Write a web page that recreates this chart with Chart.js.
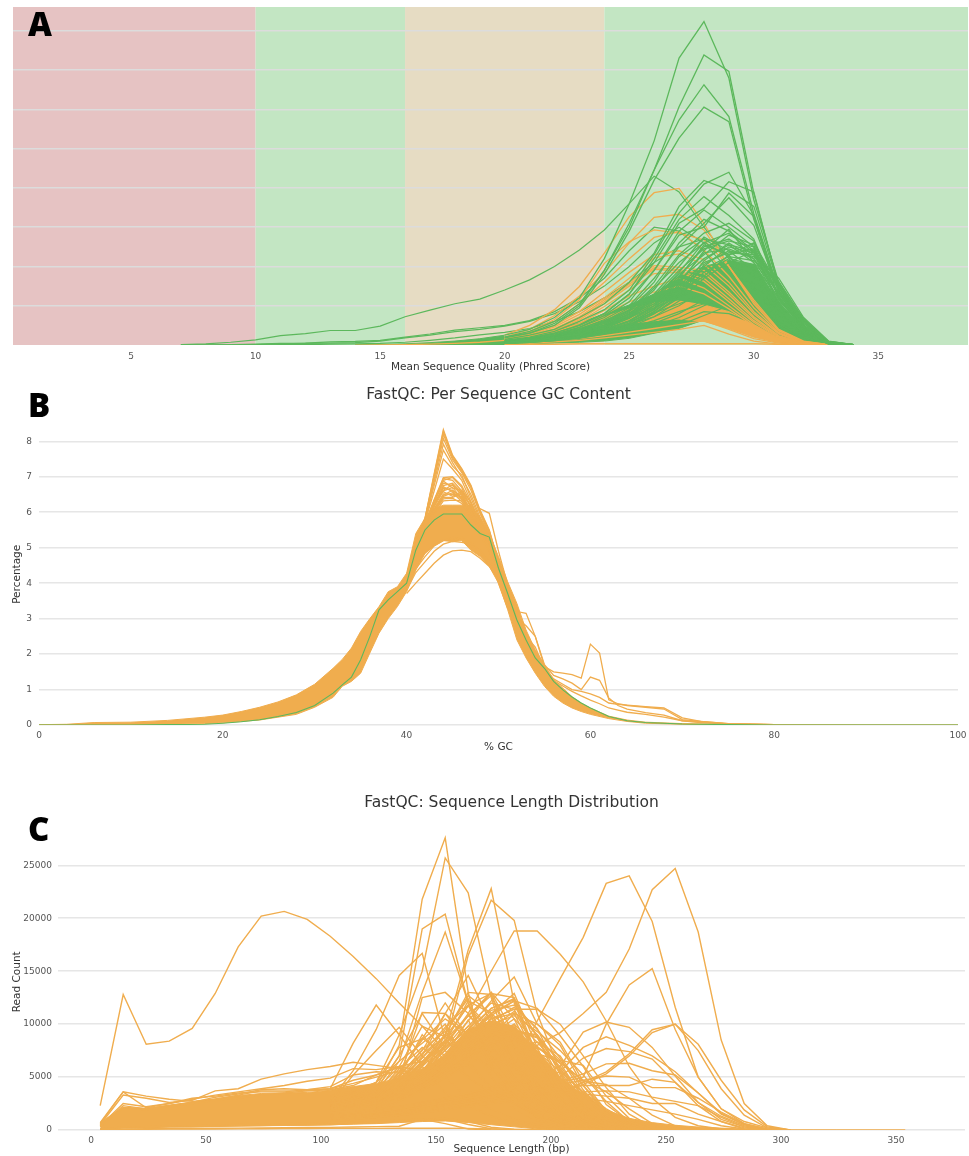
<!DOCTYPE html>
<html><head><meta charset="utf-8">
<script src="https://cdn.jsdelivr.net/npm/chart.js@4"></script>
<style>
html,body{margin:0;padding:0;background:#fff;width:969px;height:1156px;overflow:hidden}
canvas{position:absolute;left:0;filter:blur(.35px)}
.tag{position:absolute;left:28px;font:800 33px "Open Sans","Noto Sans",sans-serif;color:#000;line-height:40px}
</style></head><body>
<canvas id="qual" width="969" height="374" style="top:0"></canvas>
<canvas id="gc" width="969" height="374" style="top:380px"></canvas>
<canvas id="len" width="969" height="366" style="top:790px"></canvas>
<div class="tag" style="top:4px">A</div>
<div class="tag" style="top:385px">B</div>
<div class="tag" style="top:809px">C</div>
<script>
const GREEN='#5cb85c', ORANGE='#f0ad4e';
/* ---------- Panel A ---------- */
const qualityTicks=[5,10,15,20,25,30,35];
const qualityBandEdges=[0.26,10,16,24,38.6];
const qualityBandColors=['#e6c3c3','#c3e6c3','#e6dcc3','#c3e6c3'];
const qualityX=[20,21,22,23,24,25,26,27,28,29,30,31,32,33,34];
const qualityLeadX=[14,15,16,17,18,19,20];
const qualityLeadTop=[0,.01,.03,.06,.1,.16,.25];
const qualityLeadBottom=[0,0,0,0,0,0,0];
const qualityLeadOrange=[0,0,.01,.02,.04,.07,.12];
const qualityTailX=[7,8,9,10,11,12,13,14,15,16,17,18,19,20,21,22,23,24,25,26,27,28,29,30,31,32,33,34];
const qualityTailLines=[
[.01,.03,.07,.13,.24,.29,.37,.37,.48,.72,.89,1.05,1.17,1.4,1.66,2.0,2.42,2.93,3.6,4.3,3.9,3.0,2.2,1.2,.5,.15,.02,0],
[0,0,.01,.02,.04,.05,.08,.09,.12,.2,.28,.38,.44,.5,.62,.85,1.2,1.7,2.4,3.0,2.9,2.4,1.6,.9,.4,.1,.01,0],
[0,0,0,.01,.03,.04,.05,.06,.1,.18,.25,.34,.4,.48,.6,.8,1.1,1.5,2.0,2.6,3.0,2.6,1.9,1.2,.5,.12,.01,0],
[0,0,0,0,.01,.01,.02,.03,.04,.07,.12,.18,.26,.32,.42,.6,.85,1.2,1.6,2.1,2.5,2.7,2.3,1.4,.6,.15,.02,0]
];
const qualityMassTop=[.15,.25,.4,.56,.8,1.02,1.3,1.75,2.0,2.15,2.05,1.1,.4,.04,.01];
const qualityMassBottom=[.02,.03,.05,.07,.1,.17,.3,.42,.64,.55,.3,.1,.02,0,0];
const qualityOrangeTop=[.18,.25,.35,.5,.72,.92,1.08,1.12,1.02,.85,.52,.2,.04,0,0];
const qualityOrangeBottom=[.08,.12,.18,.25,.4,.55,.62,.66,.6,.42,.2,.06,.01,0,0];
const qualityFlat=[.02,.02,.02,.03,.03,.03,.03,.03,.03,.03,.03,.02,.01,0,0];
const qualityGreenLow=[
[.03,.05,.08,.13,.2,.3,.45,.6,.85,.8,.55,.2,.05,0,0],
[.05,.08,.12,.19,.3,.44,.62,.85,1.05,1.0,.62,.22,.05,0,0],
[.06,.1,.17,.26,.4,.6,.82,1.05,1.3,1.4,.95,.35,.08,.01,0],
[.08,.13,.2,.31,.48,.7,.95,1.22,1.5,1.55,1.2,.42,.1,.01,0],
[.1,.16,.24,.37,.55,.78,1.05,1.4,1.72,1.8,1.55,.6,.14,.02,0],
[.04,.06,.1,.15,.22,.34,.48,.7,1.0,1.25,1.1,.5,.12,.01,0],
[.12,.19,.28,.42,.62,.88,1.15,1.5,1.85,2.0,1.8,.72,.2,.02,0],
[.07,.11,.16,.24,.36,.52,.72,1.0,1.4,1.7,1.6,.85,.28,.03,0],
[.09,.14,.22,.33,.5,.72,1.0,1.3,1.6,1.4,.8,.3,.07,.01,0],
[.05,.07,.11,.17,.26,.38,.55,.8,1.15,1.6,1.45,.78,.26,.03,0],
[.11,.17,.26,.4,.58,.82,1.1,1.45,1.9,2.15,1.95,.9,.3,.03,0],
[.02,.04,.07,.1,.15,.22,.32,.5,.75,1.0,.9,.42,.1,.01,0]
];
const qualityOrangeLines=[
[.25,.5,.9,1.49,2.34,3.27,3.88,3.99,3.1,2.0,1.15,.4,.1,.01,0],
[.2,.4,.75,1.25,1.83,2.6,3.25,3.33,2.93,2.0,1.1,.38,.09,.01,0],
[.18,.35,.65,1.15,2.08,2.63,2.93,2.85,2.68,2.0,1.05,.36,.08,.01,0],
[.16,.32,.6,1.05,1.6,2.2,2.74,2.89,2.42,1.75,.95,.32,.07,.01,0],
[.14,.28,.5,.85,1.35,1.85,2.3,2.4,2.17,1.6,.85,.3,.06,.01,0],
[.13,.26,.46,.78,1.2,1.7,2.22,2.32,2.05,1.5,.8,.28,.05,0,0],
[.12,.24,.42,.72,1.15,1.6,2.02,1.98,1.9,1.35,.72,.24,.05,0,0],
[.12,.22,.4,.68,1.1,1.55,1.97,1.92,1.82,1.28,.68,.22,.05,0,0],
[.11,.21,.38,.64,1.05,1.5,1.93,1.88,1.7,1.18,.62,.2,.04,0,0],
[.1,.2,.36,.6,.98,1.4,1.82,1.85,1.62,1.1,.58,.18,.04,0,0],
[.09,.18,.32,.55,.88,1.25,1.5,1.7,1.45,1.0,.52,.16,.03,0,0],
[.08,.16,.28,.48,.78,1.1,1.35,1.5,1.3,.92,.48,.14,.03,0,0],
[.04,.07,.11,.16,.24,.33,.42,.52,.62,.4,.16,.05,.01,0,0],
[.03,.05,.08,.12,.18,.25,.32,.4,.5,.28,.1,.02,0,0,0]
];
const qualityGreenTop=[
[.25,.4,.7,1.2,2.2,3.6,5.2,7.31,8.24,6.8,3.7,1.6,.47,.05,0],
[.2,.35,.6,1.05,1.9,3.0,4.46,6.07,7.39,6.97,3.87,1.5,.4,.04,0],
[.2,.3,.55,1.0,1.9,3.1,4.46,5.73,6.63,5.82,3.35,1.4,.38,.04,0],
[.18,.3,.5,.95,1.8,2.9,4.2,5.27,6.06,5.69,3.2,1.35,.35,.03,0],
[.14,.25,.4,.7,1.05,1.6,2.34,3.53,4.19,3.95,3.53,1.5,.4,.04,0],
[.12,.2,.35,.6,.9,1.4,2.3,3.36,4.1,4.4,3.3,1.15,.45,.05,0],
[.1,.18,.3,.5,.8,1.3,2.1,3.1,3.48,4.16,3.9,1.5,.5,.05,0],
[.1,.16,.28,.45,.75,1.2,1.9,2.8,3.0,3.87,3.27,1.4,.45,.05,0],
[.1,.17,.3,.5,.8,1.3,2.2,3.2,3.78,3.3,2.7,1.2,.4,.04,0],
[.1,.15,.25,.45,.7,1.1,1.9,2.9,3.44,3.0,2.5,1.0,.35,.03,0],
[.09,.15,.24,.4,.65,1.0,1.7,2.5,3.1,3.75,3.05,1.35,.42,.05,0],
[.09,.14,.22,.38,.6,.95,1.6,2.6,3.2,2.9,2.4,1.05,.34,.04,0],
[.08,.13,.21,.36,.58,.9,1.5,2.3,2.85,3.1,2.65,1.2,.38,.04,0],
[.08,.13,.2,.34,.55,.88,1.45,2.1,2.6,2.85,2.35,1.25,.42,.04,0],
[.08,.12,.2,.33,.52,.85,1.4,2.25,2.7,2.55,2.1,1.0,.33,.03,0],
[.07,.12,.19,.32,.5,.8,1.3,2.0,2.75,2.4,1.9,.9,.3,.03,0],
[.07,.11,.18,.3,.48,.78,1.25,1.9,2.45,2.65,2.5,1.3,.5,.06,.01],
[.07,.11,.18,.3,.47,.75,1.2,1.8,2.3,2.8,2.55,1.4,.55,.06,.01],
[.06,.1,.17,.28,.45,.72,1.15,1.75,2.5,2.7,2.3,1.15,.44,.05,0],
[.06,.1,.16,.27,.42,.7,1.1,1.65,2.2,2.55,2.4,1.45,.6,.07,.01],
[.06,.1,.16,.26,.42,.68,1.05,1.6,2.35,2.45,2.2,1.3,.5,.06,.01],
[.05,.09,.15,.25,.4,.62,1.0,1.5,2.1,2.35,2.3,1.55,.62,.08,.01],
[.05,.08,.14,.24,.38,.6,.95,1.45,2.0,2.5,2.35,1.5,.55,.07,.01],
[.05,.08,.14,.22,.36,.56,.9,1.4,1.95,2.25,2.15,1.6,.66,.09,.01],
[.05,.08,.13,.21,.34,.52,.85,1.3,2.15,2.6,2.2,1.1,.36,.04,0],
[.04,.07,.12,.2,.32,.5,.8,1.25,1.85,2.2,2.05,1.2,.48,.06,.01],
[.06,.1,.15,.24,.38,.6,1.0,1.7,2.55,2.3,2.45,1.25,.4,.05,0],
[.05,.09,.14,.22,.35,.55,.92,1.55,2.4,2.95,2.1,1.35,.46,.05,0],
[.05,.08,.13,.2,.32,.5,.86,1.35,1.75,2.3,2.6,1.5,.58,.07,.01],
[.04,.07,.11,.18,.3,.48,.8,1.2,2.05,2.4,2.25,1.7,.7,.1,.01],
[.04,.07,.11,.17,.28,.45,.72,1.12,1.7,2.1,2.4,1.62,.64,.09,.01],
[.07,.12,.18,.28,.44,.7,1.18,1.85,2.62,2.25,1.75,.8,.26,.03,0]
];
/* ---------- Panel B ---------- */
const gcTicksX=[0,20,40,60,80,100];
const gcTicksY=[0,1,2,3,4,5,6,7,8];
const gcX=[0,3,6,10,14,18,20,22,24,26,28,30,32,33,34,35,36,37,38,39,40,41,42,43,44,45,46,47,48,49,50,51,52,53,54,55,56,57,58,59,60,62,64,66,70,75,80,90,100];
const gcMassTop=[.01,.02,.07,.08,.13,.22,.28,.38,.5,.65,.85,1.15,1.6,1.85,2.17,2.64,3.0,3.34,3.76,3.9,4.28,5.4,5.83,6.1,6.2,6.2,6.2,6.15,5.87,5.4,4.75,4.04,3.43,2.68,2.12,1.7,1.28,1.04,.8,.62,.48,.25,.14,.08,.04,.02,.01,0,0];
const gcMassBottom=[0,0,.01,.01,.02,.04,.06,.1,.14,.22,.3,.5,.78,1.09,1.23,1.46,2.03,2.59,3.0,3.34,3.76,4.37,4.84,5.05,5.2,5.17,5.2,4.93,4.75,4.47,4.0,3.25,2.4,1.89,1.46,1.09,.81,.62,.48,.38,.3,.18,.1,.05,.02,.01,0,0,0];
const gcGreen=[0,0,0,0,.01,.02,.05,.09,.15,.24,.35,.55,.9,1.13,1.35,1.84,2.5,3.25,3.53,3.76,4.0,4.93,5.5,5.78,5.95,5.95,5.95,5.64,5.4,5.3,4.42,3.71,2.96,2.4,1.89,1.6,1.23,.99,.79,.62,.48,.24,.12,.07,.03,.01,0,0,0];
const gcPeakX=[40,41,42,43,44,45,46,47,48,49,50,51,52];
const gcPeakLines=[
[4.2,5.2,5.83,7.09,8.33,7.61,7.23,6.76,6.06,5.5,4.6,3.9,3.2],
[4.2,5.2,5.82,7.05,8.28,7.58,7.2,6.73,6.03,5.47,4.58,3.88,3.18],
[4.2,5.2,5.8,7.0,8.2,7.53,7.16,6.7,6.0,5.45,4.55,3.86,3.16],
[4.2,5.2,5.8,6.95,8.08,7.48,7.12,6.62,5.95,5.4,4.5,3.82,3.12],
[4.15,5.15,5.78,6.85,7.92,7.4,6.98,6.5,5.85,5.32,4.45,3.78,3.1],
[4.15,5.15,5.75,6.75,7.75,7.3,7.05,6.4,5.78,5.26,4.42,3.74,3.08],
[4.15,5.1,5.72,6.6,7.5,7.22,6.9,6.3,5.7,5.2,4.38,3.7,3.05],
[4.1,5.1,5.7,6.35,6.98,7.0,6.75,6.25,5.68,5.18,4.36,3.68,3.02],
[4.1,5.05,5.68,6.32,6.95,6.9,6.6,6.15,5.62,5.12,4.32,3.65,3.0],
[4.1,5.05,5.65,6.3,6.9,6.98,6.7,6.1,5.6,5.1,4.3,3.62,2.98],
[4.05,5.0,5.62,6.28,6.82,6.75,6.5,6.2,5.72,5.22,4.35,3.64,2.96],
[4.05,5.0,5.6,6.22,6.75,6.82,6.55,6.0,5.5,5.02,4.22,3.56,2.94],
[4.0,4.95,5.58,6.18,6.68,6.62,6.42,6.08,5.58,5.08,4.28,3.58,2.9],
[4.0,4.95,5.55,6.15,6.6,6.7,6.38,5.95,5.45,4.98,4.18,3.52,2.88],
[3.95,4.9,5.52,6.1,6.52,6.5,6.45,5.98,5.42,4.95,4.16,3.48,2.85],
[3.95,4.9,5.5,6.05,6.45,6.55,6.3,6.02,5.5,5.0,4.2,3.5,2.85],
[3.95,4.88,5.46,6.0,6.38,6.4,6.25,5.9,5.38,4.92,4.12,3.45,2.82],
[3.9,4.85,5.42,5.95,6.32,6.34,6.32,5.85,5.35,4.9,4.1,3.42,2.8],
[4.0,5.1,5.6,5.85,6.0,6.05,6.0,5.95,6.1,5.97,4.9,3.95,3.25],
[3.71,4.0,4.28,4.56,4.79,4.91,4.93,4.89,4.7,4.47,4.09,3.4,2.8],
[3.8,4.3,4.6,4.9,5.1,5.18,5.15,5.1,4.85,4.6,4.15,3.45,2.75],
[3.85,4.4,4.75,5.05,5.2,5.3,5.22,5.15,4.9,4.62,4.18,3.5,2.8],
[3.9,4.5,4.85,5.08,5.22,5.2,5.3,5.05,4.92,4.55,4.1,3.4,2.7],
[4.05,5.0,5.55,6.2,6.72,6.58,6.35,6.12,5.6,5.1,4.3,3.6,2.92],
[4.05,5.02,5.6,6.25,6.62,6.78,6.48,6.05,5.52,5.05,4.25,3.55,2.9],
[4.1,5.05,5.62,6.3,6.58,6.45,6.58,6.18,5.65,5.15,4.32,3.6,2.95],
[4.0,4.92,5.5,6.08,6.48,6.62,6.4,5.92,5.5,5.02,4.2,3.5,2.85],
[3.95,4.9,5.45,6.02,6.42,6.42,6.52,6.0,5.45,4.98,4.15,3.45,2.85],
[4.1,5.08,5.66,6.34,6.88,6.68,6.62,6.28,5.7,5.2,4.34,3.62,2.98]
];
const gcTailX=[49,50,51,52,53,54,55,56,57,58,59,60,61,62,63,64,66,68,70,72,75,80];
const gcTailLines=[
[5.2,4.28,3.6,3.2,3.15,2.5,1.65,1.5,1.46,1.42,1.32,2.28,2.03,.71,.6,.55,.5,.45,.15,.1,.04,.01],
[5.0,4.2,3.5,3.0,2.8,2.5,1.7,1.4,1.3,1.18,1.0,1.35,1.26,.76,.55,.45,.35,.28,.12,.08,.03,.01],
[4.9,4.1,3.4,2.9,2.5,2.2,1.6,1.3,1.15,1.0,.95,.88,.78,.62,.58,.56,.52,.48,.2,.1,.04,.01],
[4.8,4.0,3.3,2.8,2.4,2.0,1.5,1.25,1.1,.95,.82,.7,.6,.48,.42,.36,.3,.22,.12,.07,.03,.01]
];
/* ---------- Panel C ---------- */
const lengthTicksX=[0,50,100,150,200,250,300,350];
const lengthTicksY=[0,5000,10000,15000,20000,25000];
const lengthX=[4,14,24,34,44,54,64,74,84,94,104,114,124,134,144,154,164,174,184,194,204,214,224,234,244,254,264,274,284,294,304,314,324,354];
const lengthMassTop=[700,2150,2050,2350,2650,2950,3250,3450,3500,3550,3750,4100,4400,4900,5800,7000,9500,10300,9800,7500,5000,3300,1900,1100,700,450,280,180,90,40,10,3,1,0];
const lengthMassBottom=[100,200,250,300,300,350,400,400,450,450,500,550,600,700,800,850,700,500,300,100,0,0,0,0,0,0,0,0,0,0,0,0,0,0];
const lengthHump=[2300,12800,8100,8400,9600,12900,17300,20200,20650,19900,18300,16400,14300,12000,9800,7500,5000,3500,2500,1800,1300,900,600,400,300,200,100,50,20,10,0];
const lengthEarly=[
[600,3600,2100,2500,3000,3200,3500,3600,3600,3800,3900,4400,5000,5600,4000],
[700,3600,3200,2900,2700,2900,3300,3700,3700,3700,3800,4200,5200,5900,4500],
[500,3300,3000,2600,2800,3700,3900,4800,5300,5700,6000,6400,6100,5800,5000],
[400,2500,2200,2500,2900,3300,3600,3900,4200,4600,4900,5800,5700,6000,5600],
[350,2300,2000,2300,2600,3100,3400,3800,3900,3800,4100,5200,5500,5400,5200],
[300,2100,1900,2200,2500,2800,3000,3300,3500,3700,3900,4700,5200,6000,6500]
];
const lengthBottomLines=[
[50,100,120,130,140,160,180,200,210,230,250,280,320,360,1000,600,100,0],
[30,60,70,80,90,100,110,120,130,140,150,150,150,160,170,170,150,100,60,30,0],
[80,200,240,280,300,340,380,420,440,470,500,620,680,820,980,1050,520,120,0],
[100,260,300,350,400,460,520,560,600,620,680,740,800,920,1020,1100,800,260,80,0]
];
const lengthMidX=[104,114,124,134,144,154,164,174,184,194,204,214,224,234,244,254,264,274,284,294,304];
const lengthMidLines=[
[2900,3300,4000,8000,21800,27600,13000,5000,2500,1200,600,300,100,0],
[3200,3700,4500,9000,15000,25700,22400,12500,6000,2500,1200,500,200,0],
[2700,3100,3900,7000,19000,20400,12000,6000,3000,1500,700,300,0],
[3000,3500,4500,6500,13000,18700,12000,6500,3000,1200,500,200,0],
[2800,5600,9500,14600,16700,8500,6500,4000,2000,900,400,100,0],
[3900,8200,11800,9000,6000,3500,2300,1300,700,300,100,0],
[2500,5200,7500,9700,7000,5000,3000,2000,1000,500,200,0],
[2200,2500,3000,3800,5000,9000,17000,22800,12000,7000,3200,1400,500,200,0],
[2300,2600,3100,4000,5500,8000,16500,21700,19800,11000,5500,2500,1000,400,100,0],
[2400,2700,3200,3800,4500,8000,11000,15000,18800,18800,16600,14000,10300,6000,3000,1200,400,100,0],
[1500,1700,2000,2200,2500,3000,3300,3800,6000,10300,14300,18200,23300,24000,19700,11600,5000,2000,800,200,0],
[1400,1600,1800,2100,2500,3000,3400,4000,5000,8000,9200,11000,13000,17100,22700,24700,18700,8500,2500,400,0],
[1300,1500,1800,2000,2300,2700,3000,3300,3600,4000,4500,5000,10000,13700,15250,9500,5000,2000,600,100,0],
[1300,1500,1700,1900,2100,2400,2600,2800,3000,3300,3600,4500,5500,7200,9470,10000,8100,4700,1900,300,0],
[1200,1400,1600,1800,2000,2300,2500,2700,2900,3100,3500,4300,5300,7000,9200,10000,7500,3900,1400,200,0],
[1400,1600,1900,2200,2600,3000,3500,4000,4500,5000,6000,9250,10200,9700,7800,5100,2600,1000,300,0],
[1300,1500,1800,2100,2500,2900,3300,3800,4200,4800,5500,7800,8800,8000,7000,5500,3500,1500,500,0],
[1200,1400,1700,2000,2400,2800,3200,3700,4100,4500,5000,6800,7700,7400,6700,4500,2300,800,100,0],
[1100,1300,1500,1800,2200,2600,3000,3400,3800,4200,4600,5300,6250,6300,5600,5200,3500,1600,500,0],
[1000,1200,1400,1700,2000,2400,2800,3200,3600,4000,4300,4700,5100,5000,4000,4000,3000,1700,600,100,0],
[1000,1200,1400,1600,1900,2300,2700,3100,3500,3800,4000,4200,4200,4200,4800,4500,2600,1300,400,0],
[900,1100,1300,1500,1800,2200,2500,2900,3200,3400,3500,3600,3700,3600,3100,2700,2300,1200,300,0],
[900,1000,1200,1400,1700,2000,2300,2600,2900,3100,3300,3400,3200,3000,2500,2500,1500,800,200,0],
[800,1000,1200,1400,1600,1900,2200,2500,2700,2900,3000,3000,2700,2300,1900,1500,1000,400,100,0],
[2600,3000,3500,4500,12500,13000,11000,8000,5000,3000,1500,600,200,0],
[2500,2900,3400,5000,11100,11000,9000,6800,4200,2400,1200,500,100,0],
[2400,2800,3300,4300,7000,11000,14600,10000,6000,3500,1700,700,200,0],
[2300,2700,3200,4000,6000,9000,13000,12800,8000,4400,2100,800,200,0],
[2300,2600,3100,3900,5500,8500,11800,12900,12500,7000,3000,1100,300,0],
[2200,2500,3000,3800,5000,7000,9500,12200,14450,10000,8000,4200,1500,400,0],
[2200,2500,2900,3700,4800,6500,9000,11000,12200,11500,8900,6000,2400,800,100,0],
[2100,2400,2800,3500,4500,6000,8500,10500,11400,11400,10000,7000,4000,1500,300,0],
[2300,2700,3500,5500,8500,10500,9000,7000,5000,3000,1500,600,100,0],
[2400,2900,3800,6000,9800,8800,7500,5800,3900,2300,1100,400,0],
[2500,3000,4500,7800,8600,12000,8800,7000,4800,2800,1300,500,0],
[2300,2700,3400,5200,7200,9700,11800,9600,6400,3600,1700,600,100,0],
[2200,2600,3300,4800,6800,9000,12700,11000,9200,5000,2400,900,200,0],
[2200,2500,3100,4400,6200,8200,10800,13000,10500,6200,3000,1100,200,0],
[2100,2400,3000,4100,5600,7500,9800,12000,11400,7200,3800,1500,300,0],
[2100,2400,2900,3900,5200,7000,9200,11500,12400,8800,4800,1800,400,0],
[2000,2300,2800,3700,5000,6600,8800,11300,11800,9500,6800,3400,1000,200,0],
[2000,2300,2700,3500,4700,6200,8200,10500,11000,10000,8300,4600,1800,500,0],
[2000,2200,2600,3400,4500,6000,8000,10000,10800,9300,7500,5200,2700,800,100,0],
[2500,2800,3200,4200,6400,8300,7700,6800,6000,4200,3800,3500,1800,600,0],
[1900,2200,2500,3200,4300,5800,7600,9000,9400,8700,6600,6100,3200,1100,200,0],
[1800,2100,2400,3100,4000,5300,6800,8200,8700,7800,6300,4700,3600,2000,600,100,0],
[1800,2000,2300,2900,3800,4900,6200,7400,7800,7200,6500,4600,4300,3000,1400,400,0]
];
const lengthSpikeX=[124,134,144,154,164,174,184,194,204,214,224,234,244];
const lengthSpikes=[
[3000,5000,9000,6500,5000,3500,2500,1400,700,300,100,0],
[3500,6500,8200,10000,6000,4000,2600,1500,800,300,0],
[3200,5200,7500,11000,8200,5000,3000,1800,900,400,100,0],
[3800,7000,11000,7800,9500,6000,3500,2000,900,400,100,0],
[2800,4600,6800,9500,12400,7000,4200,2400,1100,500,100,0],
[3000,4800,7200,8800,11700,9200,4800,2600,1200,500,100,0],
[2600,4200,6200,8300,12200,11000,6500,3200,1400,500,100,0],
[2800,4500,6500,8500,10800,12700,7500,3800,1600,600,100,0],
[2500,4000,5600,7800,10300,13000,9000,4300,1800,700,100,0],
[2400,3900,5400,7200,9500,11500,12300,6200,2600,900,200,0],
[2500,3800,5200,7000,9000,11000,12900,7800,3000,1100,200,0],
[2300,3500,5000,6600,8800,10800,12200,8800,4200,1500,300,0],
[2200,3400,4800,6400,8300,10200,11600,9600,5200,2200,500,0],
[2100,3200,4500,6000,7800,9600,11200,9000,6300,3000,800,100,0],
[2100,3100,4300,5700,7400,9000,10500,8300,7000,3800,1200,200,0],
[2000,3000,4100,5400,7000,8800,10000,7800,6500,4200,1800,400,0],
[2600,4200,6000,8000,10800,9000,5600,7200,4700,2300,600,100,0],
[2900,5000,7600,9300,6800,10700,6000,4800,3000,1400,400,0],
[3300,5800,7800,6200,9000,7500,10000,5500,3100,1300,300,0],
[2700,4400,6400,9000,7300,8800,11000,6700,3400,1200,200,0],
[3100,5400,8700,7000,10400,6200,8500,7700,3900,1700,400,0],
[2400,3700,5200,7600,9800,8300,9300,9000,5400,1900,500,0],
[2200,3300,4600,6300,9000,10900,7800,8300,5800,2700,700,0],
[2000,3000,4200,5800,7600,9200,9500,8800,5700,3500,1400,300,0],
[1900,2900,4000,5400,7000,8700,9000,7900,6000,3200,1600,500,0],
[1800,2700,3700,5000,6500,8000,8600,7400,5500,3600,2000,800,0]
];
/* ---------- helpers ---------- */
const pts=(xs,ys)=>ys.map((v,i)=>({x:xs[i],y:v}));
const line=(xs,ys,c,w=1.4)=>({data:pts(xs,ys),borderColor:c,borderWidth:w,pointRadius:0,tension:0,fill:false,borderJoinStyle:'miter'});
const band=(xs,top,bot,c)=>[
  {data:pts(xs,top),borderColor:c,borderWidth:1,backgroundColor:c,pointRadius:0,tension:0,fill:'-1'},
  {data:pts(xs,bot),borderColor:c,borderWidth:1,pointRadius:0,tension:0,fill:false}];
const tick={font:{family:'DejaVu Sans',size:9},color:'#555',autoSkip:false,maxRotation:0};
const GRID={color:'#e6e6e6',lineWidth:1.6,drawTicks:false};
function make(id,sets,o){
  new Chart(document.getElementById(id),{type:'line',data:{datasets:sets.slice().reverse()},
    plugins:o.bands?[{id:'bands',beforeDraw(ch){const g=ch.ctx,a=ch.chartArea,s=ch.scales.x;
      o.bands.colors.forEach((c,i)=>{const l=s.getPixelForValue(o.bands.edges[i]),r=s.getPixelForValue(o.bands.edges[i+1]);
        g.fillStyle=c;g.fillRect(l,a.top,r-l,a.bottom-a.top);});}}]:[],
    options:{responsive:false,animation:false,events:[],
      layout:{padding:o.pad},
      plugins:{legend:{display:false},tooltip:{enabled:false},
        title:o.title?{display:true,text:o.title,fullSize:false,color:'#333',font:{family:'DejaVu Sans',size:15.5,weight:'normal'},
          padding:{top:o.titleTop,bottom:o.titleBottom}}:{display:false}},
      scales:{
        x:{type:'linear',min:o.xMin,max:o.xMax,grid:{display:false,drawTicks:false},border:{display:false},
          afterBuildTicks:s=>{s.ticks=o.xTicks.map(v=>({value:v}));},
          afterFit:s=>{s.height=o.xH;s.paddingLeft=0;s.paddingRight=0;},
          ticks:Object.assign({},tick,{padding:o.xPad,callback:v=>String(v)}),
          title:{display:true,text:o.xTitle,color:'#333',font:{family:'DejaVu Sans',size:10.5},padding:0}},
        y:{type:'linear',min:0,max:o.yMax,grid:o.gridColor?Object.assign({},GRID,{color:o.gridColor}):GRID,border:{display:false},
          afterBuildTicks:s=>{s.ticks=o.yTicks.map(v=>({value:v}));},
          afterFit:s=>{s.width=o.yW;s.paddingTop=0;s.paddingBottom=0;},
          ticks:Object.assign({},tick,{display:o.yLabels,padding:o.yPad,callback:v=>String(v)}),
          title:o.yTitle?{display:true,text:o.yTitle,color:'#333',font:{family:'DejaVu Sans',size:10.5},padding:{top:11,bottom:0}}:{display:false}}
      }}});
}
/* Panel A */
const qualityTicksY=[1,2,3,4,5,6,7,8];
const setsA=[
 ...band(qualityLeadX,qualityLeadTop,qualityLeadBottom,GREEN),
 line(qualityLeadX,qualityLeadOrange,ORANGE,1.3),
 ...band(qualityX,qualityMassTop,qualityMassBottom,GREEN),
 ...band(qualityX,qualityOrangeTop,qualityOrangeBottom,ORANGE),
 ...qualityGreenLow.map(v=>line(qualityX,v,GREEN,1.2)),
 ...qualityTailLines.map(v=>line(qualityTailX,v,GREEN,1.2)),
 line(qualityX,qualityFlat,ORANGE),
 ...qualityOrangeLines.map(v=>line(qualityX,v,ORANGE,1.3)),
 ...qualityGreenTop.map(v=>line(qualityX,v,GREEN,1.3))
];
make('qual',setsA,{pad:{top:7,right:1},xMin:.26,xMax:38.6,xTicks:qualityTicks,xH:29,xPad:6,
 xTitle:'Mean Sequence Quality (Phred Score)',yMax:8.61,yTicks:qualityTicksY,yW:13,yLabels:false,yPad:0,gridColor:'#dcdcdc',
 bands:{edges:qualityBandEdges,colors:qualityBandColors}});
/* Panel B */
const setsB=[
 ...band(gcX,gcMassTop,gcMassBottom,ORANGE),
 ...gcPeakLines.map(v=>line(gcPeakX,v,ORANGE,1.3)),
 ...gcTailLines.map(v=>line(gcTailX,v,ORANGE,1.3)),
 line(gcX,gcGreen,GREEN,1.1)
];
make('gc',setsB,{pad:{right:11},title:'FastQC: Per Sequence GC Content',titleTop:6,titleBottom:19,xMin:0,xMax:100,xTicks:gcTicksX,xH:29,xPad:5,
 xTitle:'% GC',yMax:8.5,yTicks:gcTicksY,yW:39,yLabels:true,yPad:7,yTitle:'Percentage'});
/* Panel C */
const setsC=[
 ...band(lengthX,lengthMassTop,lengthMassBottom,ORANGE),
 line(lengthX,lengthHump,ORANGE),
 ...lengthEarly.map(v=>line(lengthX,v,ORANGE)),
 ...lengthBottomLines.map(v=>line(lengthX,v,ORANGE)),
 ...lengthMidLines.map(v=>line(lengthMidX,v,ORANGE)),
 ...lengthSpikes.map(v=>line(lengthSpikeX,v,ORANGE))
];
make('len',setsC,{pad:{right:4},title:'FastQC: Sequence Length Distribution',titleTop:4,titleBottom:21,xMin:-14.35,xMax:380,xTicks:lengthTicksX,xH:26,xPad:5,
 xTitle:'Sequence Length (bp)',yMax:28000,yTicks:lengthTicksY,yW:58,yLabels:true,yPad:6,yTitle:'Read Count'});
</script>
</body></html>
